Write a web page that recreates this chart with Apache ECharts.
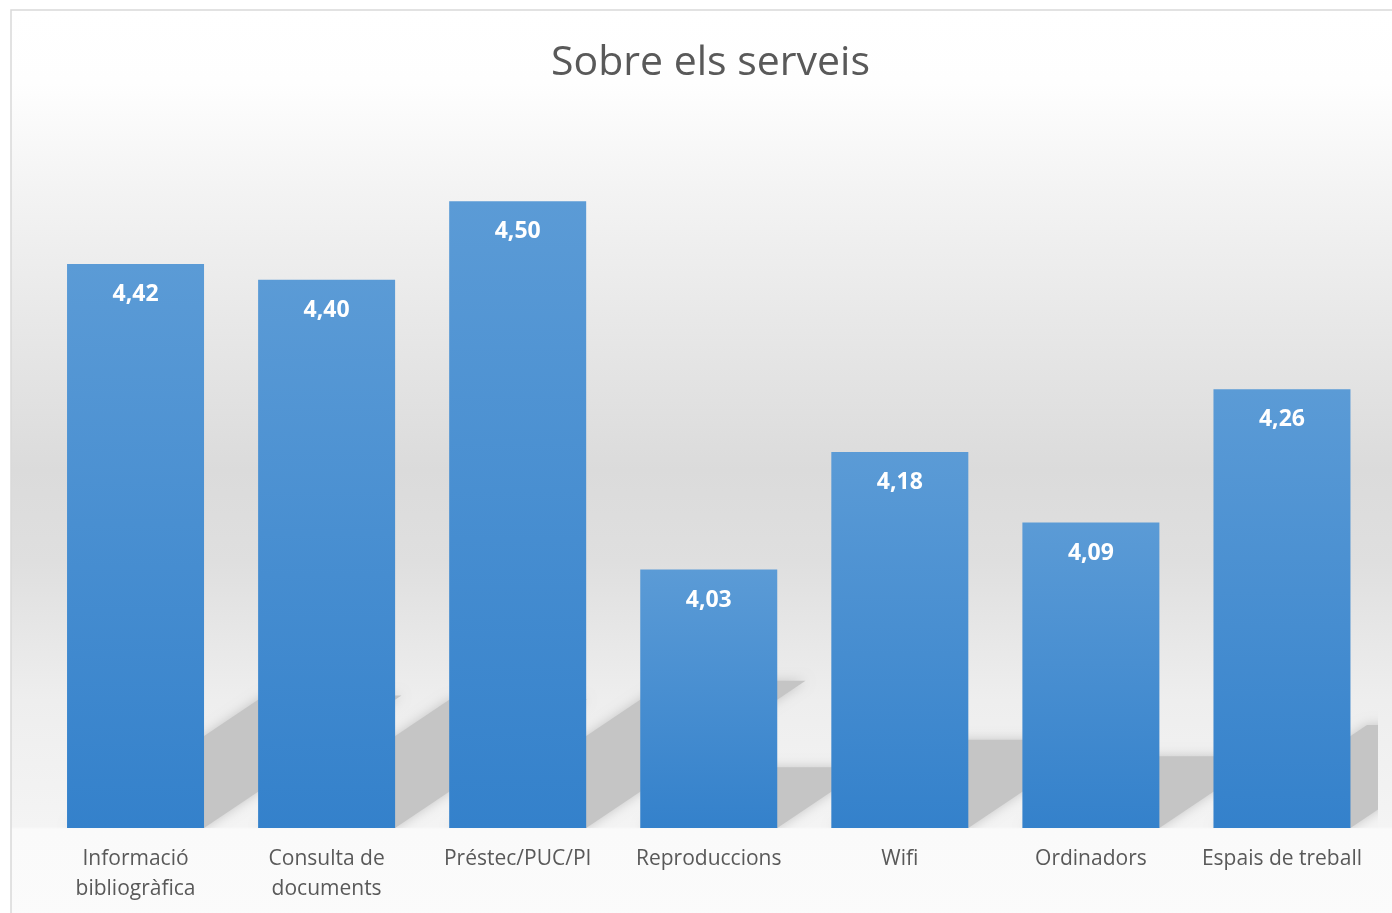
<!DOCTYPE html>
<html>
<head>
<meta charset="utf-8">
<script src="https://cdn.jsdelivr.net/npm/echarts@6/dist/echarts.min.js"></script>
<style>
html,body{margin:0;padding:0;background:#fff;}
#chart{width:1392px;height:913px;}
</style>
</head>
<body>
<div id="chart"></div>
<script>
var titleText = 'Sobre els serveis';
var categories = ['Informació\nbibliogràfica', 'Consulta de\ndocuments', 'Préstec/PUC/PI', 'Reproduccions', 'Wifi', 'Ordinadors', 'Espais de treball'];
var values = [4.42, 4.40, 4.50, 4.03, 4.18, 4.09, 4.26];
var yMin = 3.7;
var yMax = 4.6;

var barRatio = 0.717;
var chart = echarts.init(document.getElementById('chart'));

function fmt(v) { return v.toFixed(2).replace('.', ','); }

var option = {
  animation: false,
  backgroundColor: '#ffffff',
  graphic: [{
    type: 'rect',
    z: -10,
    shape: { x: 11, y: 10, width: 1400, height: 920 },
    style: {
      stroke: '#d9d9d9',
      lineWidth: 1.5,
      fill: {
        type: 'linear', x: 0, y: 0, x2: 0, y2: 1, global: false,
        colorStops: [
          { offset: 0, color: '#ffffff' },
          { offset: 0.08, color: '#fefefe' },
          { offset: 0.2, color: '#f3f3f3' },
          { offset: 0.5, color: '#dbdbdb' },
          { offset: 0.6, color: '#dfdfdf' },
          { offset: 0.75, color: '#eeeeee' },
          { offset: 0.887, color: '#f4f4f4' },
          { offset: 0.89, color: '#fafafa' },
          { offset: 1, color: '#fbfbfb' }
        ]
      }
    }
  }],
  title: {
    text: titleText,
    left: 546,
    top: 33,
    textStyle: {
      fontFamily: 'Open Sans',
      fontSize: 41,
      fontWeight: 'normal',
      color: '#595959',
      lineHeight: 50
    }
  },
  grid: { left: 40, right: 14.5, top: 123, bottom: 85, containLabel: false },
  xAxis: {
    type: 'category',
    data: categories,
    axisLine: { show: false },
    axisTick: { show: false },
    axisLabel: {
      interval: 0,
      margin: 16,
      fontFamily: 'Open Sans',
      fontSize: 21,
      lineHeight: 30,
      color: '#595959'
    }
  },
  yAxis: {
    type: 'value',
    min: yMin,
    max: yMax,
    show: false,
    splitLine: { show: false }
  },
  series: [{
    type: 'custom',
    z: 1,
    clip: true,
    silent: true,
    data: values.map(function (v, i) { return [i, v]; }),
    renderItem: function (params, api) {
      var idx = api.value(0);
      var top = api.coord([idx, api.value(1)]);
      var base = api.coord([idx, yMin]);
      var band = api.size([1, 0])[0];
      var bw = band * barRatio;
      var x0 = top[0] - bw / 2, x1 = top[0] + bw / 2;
      var h = base[1] - top[1];
      var dy = h * 0.235, dx = h * 0.35;
      return {
        type: 'polygon',
        shape: { points: [[x0, base[1]], [x1, base[1]], [x1 + dx, base[1] - dy], [x0 + dx, base[1] - dy]] },
        style: { fill: '#c5c5c5', shadowBlur: 12, shadowColor: '#c5c5c5' }
      };
    }
  }, {
    type: 'bar',
    z: 2,
    data: values,
    barWidth: (barRatio * 100) + '%',
    itemStyle: {
      color: {
        type: 'linear', x: 0, y: 0, x2: 0, y2: 1,
        colorStops: [
          { offset: 0, color: '#5b9bd6' },
          { offset: 1, color: '#3481cb' }
        ]
      }
    },
    label: {
      show: true,
      position: 'insideTop',
      distance: 19,
      formatter: function (p) { return fmt(p.value); },
      fontFamily: 'Open Sans',
      fontWeight: 'bold',
      fontSize: 23,
      color: '#ffffff'
    }
  }]
};
chart.setOption(option);
</script>
</body>
</html>
